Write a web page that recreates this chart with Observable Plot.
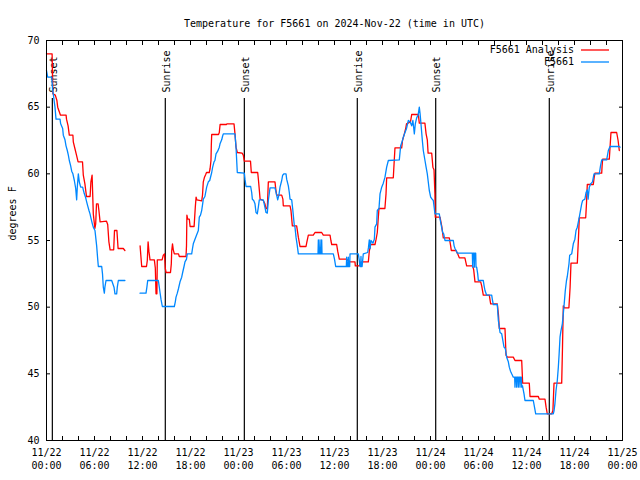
<!DOCTYPE html>
<html><head><meta charset="utf-8">
<script src="https://cdn.jsdelivr.net/npm/d3@7"></script>
<script src="https://cdn.jsdelivr.net/npm/@observablehq/plot@0.6"></script>
<style>body{margin:0;background:#fff;}</style>
</head><body><div id="chart"></div>
<script>
const title = "Temperature for F5661 on 2024-Nov-22 (time in UTC)";
const yLabel = "degrees F";
const seriesNames = ["F5661 Analysis", "F5661"];
const seriesColors = ["#ff0000", "#0088ff"];

// [hours since 2024-11-22 00:00 UTC, degrees F]
const analysis = [
[0.0,69.0],[0.7,69.0],[0.8,66.0],[1.1,65.9],[1.3,65.5],[1.4,65.0],[1.75,64.4],[2.45,64.4],[2.5,64.1],[2.7,63.6],
[2.85,62.9],[3.3,62.9],[3.35,62.4],[3.55,61.9],[3.75,61.4],[3.95,60.9],[4.5,60.9],[4.6,59.9],[4.8,59.25],[5.0,58.3],
[5.45,58.3],[5.55,59.4],[5.7,59.9],[5.85,57.0],[6.05,55.9],[6.15,56.25],[6.25,57.75],[6.45,57.75],[6.55,57.25],[6.7,56.4],
[7.5,56.45],[7.65,56.2],[7.8,54.9],[7.95,54.3],[8.4,54.3],[8.5,55.75],[8.8,55.75],[8.95,54.4],[9.6,54.4],[9.8,54.25],
[10.7,NaN],
[11.7,54.6],[11.75,54.2],[11.9,53.05],[12.5,53.05],[12.6,53.5],[12.7,54.9],[12.8,54.2],[12.94,53.55],[13.48,53.55],[13.6,52.95],
[13.69,51.0],[13.8,51.0],[13.85,53.55],[14.45,53.55],[14.6,53.9],[14.75,54.0],[14.85,52.9],[14.95,52.6],[15.5,52.6],[15.6,53.25],
[15.65,54.2],[15.75,54.75],[15.85,54.3],[15.98,54.0],[16.5,54.0],[16.6,53.8],[17.44,53.8],[17.5,54.6],[17.55,56.9],[17.65,56.6],
[17.85,56.6],[17.95,56.05],[18.45,56.05],[18.6,57.5],[18.7,58.25],[18.8,58.05],[19.4,57.97],[19.5,58.4],[19.6,59.4],[19.75,59.75],
[19.9,59.95],[20.0,60.1],[20.35,60.1],[20.45,60.4],[20.56,61.0],[20.6,62.1],[20.65,62.95],[21.5,62.95],[21.6,63.1],[21.7,63.7],
[22.5,63.7],[22.55,63.75],[23.44,63.75],[23.56,63.0],[23.69,62.0],[23.85,61.6],[24.45,61.55],[24.6,61.4],[24.73,60.95],[25.5,60.95],
[25.6,60.1],[26.4,60.1],[26.5,59.5],[26.7,58.1],[27.1,58.0],[27.3,57.75],[27.44,57.4],[27.6,57.4],[27.73,59.4],[28.56,59.4],
[28.65,58.9],[28.77,58.4],[29.4,58.4],[29.55,58.1],[29.6,57.6],[30.44,57.6],[30.56,57.25],[30.73,56.1],[31.27,56.1],[31.48,55.25],
[31.69,54.55],[32.44,54.55],[32.55,54.9],[32.73,55.4],[33.35,55.4],[33.56,55.6],[34.4,55.6],[34.6,55.4],[35.44,55.4],[35.55,55.0],
[35.65,54.7],[36.27,54.7],[36.4,54.2],[36.6,53.6],[37.52,53.6],[37.7,53.5],[37.94,53.4],[38.56,53.4],[38.6,53.1],[39.1,53.1],
[39.2,53.3],[39.4,53.4],[40.23,53.4],[40.35,54.2],[40.52,54.7],[41.06,54.7],[41.2,55.1],[41.35,55.6],[41.45,56.5],[41.56,57.4],
[42.3,57.4],[42.44,58.5],[42.52,59.7],[43.35,59.7],[43.45,60.8],[43.56,61.95],[44.4,61.95],[44.5,62.5],[44.73,63.0],[44.9,63.4],
[45.0,63.75],[45.5,63.9],[45.65,64.45],[46.48,64.45],[46.6,63.8],[47.3,63.8],[47.45,63.0],[47.6,62.55],[47.7,61.55],[48.15,61.55],
[48.3,60.5],[48.44,60.3],[48.55,58.5],[48.6,56.75],[49.19,56.75],[49.3,56.4],[49.4,56.1],[49.6,55.2],[50.35,55.2],[50.52,54.6],
[50.6,54.25],[51.19,54.25],[51.4,54.0],[51.6,53.7],[52.3,53.7],[52.52,53.1],[53.27,53.1],[53.4,52.8],[53.56,51.9],[54.27,51.9],
[54.4,51.6],[54.6,50.9],[55.35,50.9],[55.52,50.25],[56.35,50.25],[56.5,49.4],[56.6,48.4],[57.31,48.4],[57.44,46.4],[57.6,46.25],
[58.35,46.25],[58.56,46.0],[59.4,46.0],[59.52,44.3],[60.35,44.3],[60.44,43.3],[61.48,43.3],[61.6,43.1],[62.31,43.1],[62.45,42.5],
[62.6,42.0],[63.15,42.0],[63.3,42.25],[63.44,44.3],[64.4,44.3],[64.5,47.0],[64.6,50.1],[64.75,49.95],[65.3,49.95],[65.45,51.5],
[65.56,53.3],[66.35,53.3],[66.5,55.25],[66.6,56.7],[67.4,56.7],[67.5,57.8],[67.6,59.2],[68.35,59.2],[68.45,59.7],[68.56,60.05],
[69.4,60.05],[69.45,60.6],[69.52,61.1],[70.35,61.1],[70.45,62.05],[70.56,63.1],[71.27,63.1],[71.45,62.5],[71.6,61.75]
];

const station = [
[0.0,67.75],[0.15,67.25],[0.65,67.25],[0.77,66.25],[0.85,66.0],[0.95,65.5],[1.06,65.0],[1.19,64.1],[1.69,64.1],[1.77,63.75],
[2.02,63.4],[2.1,62.9],[2.31,62.55],[2.44,62.1],[2.6,61.75],[2.73,61.4],[2.85,61.0],[3.02,60.6],[3.15,60.2],[3.3,60.0],
[3.48,59.5],[3.65,58.9],[3.77,58.05],[3.85,59.0],[3.98,60.0],[4.1,59.4],[4.27,59.0],[4.52,59.0],[4.6,58.8],[4.73,58.5],
[4.9,58.2],[5.02,57.9],[5.15,57.6],[5.31,57.25],[5.44,57.0],[5.55,56.7],[5.73,56.25],[5.85,56.0],[6.06,55.75],[6.15,55.25],
[6.27,54.6],[6.4,53.6],[6.48,53.05],[6.9,53.05],[7.0,52.5],[7.1,51.5],[7.23,51.05],[7.3,51.5],[7.44,52.0],[8.15,52.0],
[8.44,51.5],[8.56,51.0],[8.77,51.0],[8.85,51.5],[8.98,52.0],[9.8,52.0],
[10.7,NaN],
[11.69,51.05],[12.44,51.05],[12.55,51.5],[12.65,52.0],[13.98,52.0],[14.1,51.5],[14.19,51.1],[14.31,50.6],[14.4,50.3],[14.48,50.05],
[15.98,50.05],[16.1,50.4],[16.19,50.75],[16.35,51.05],[16.5,51.4],[16.69,51.9],[16.9,52.25],[17.02,52.6],[17.19,53.05],[17.31,53.4],
[17.5,53.6],[17.6,54.0],[18.15,54.0],[18.25,54.4],[18.35,54.75],[18.56,55.1],[18.75,55.4],[18.98,55.75],[19.1,56.75],[19.25,56.9],
[19.4,57.25],[19.52,57.75],[19.6,58.1],[19.8,58.3],[20.02,59.0],[20.23,59.4],[20.4,59.5],[20.65,60.1],[20.77,60.5],[20.94,60.9],
[21.05,61.0],[21.19,61.5],[21.4,61.7],[21.6,62.0],[21.69,62.25],[21.9,62.55],[22.0,62.8],[22.1,63.0],[23.56,63.0],[23.69,62.0],
[23.85,60.1],[24.73,60.05],[24.81,59.6],[24.94,59.05],[25.52,59.05],[25.65,58.6],[25.73,58.1],[25.9,58.0],[26.06,57.75],[26.19,57.1],
[26.35,57.0],[26.48,57.5],[26.6,58.05],[27.1,58.05],[27.3,57.5],[27.44,57.1],[27.6,57.05],[27.73,58.0],[27.94,58.95],[28.56,58.95],
[28.77,58.4],[28.9,58.05],[29.05,58.4],[29.19,59.0],[29.4,59.5],[29.52,59.9],[29.69,60.0],[29.94,60.0],[30.02,59.6],[30.23,59.1],
[30.35,58.6],[30.44,58.1],[30.65,58.05],[30.77,57.4],[30.85,56.9],[30.98,56.1],[31.06,56.0],[31.19,55.25],[31.35,54.6],[31.48,54.0],
[33.77,54.0],[33.94,54.0],[33.98,55.05],[34.02,54.0],[34.15,54.0],[34.19,55.05],[34.23,54.0],[34.36,54.0],[34.4,55.05],[34.44,54.0],
[35.85,54.0],[36.0,53.6],[36.15,53.05],[37.48,53.05],[37.52,53.75],[37.56,53.05],[37.69,53.05],[37.73,53.75],[37.77,53.05],[37.9,53.05],
[37.94,54.0],[38.98,54.0],[39.1,53.5],[39.19,53.05],[39.27,53.05],[39.31,53.8],[39.35,53.05],[39.45,53.05],[39.6,54.0],[40.15,54.1],
[40.25,54.5],[40.35,55.05],[40.45,54.4],[40.55,55.0],[40.8,54.8],[40.98,55.1],[41.06,56.0],[41.27,56.25],[41.35,57.25],[41.56,57.4],
[41.69,58.5],[41.9,59.0],[42.1,59.3],[42.31,59.75],[42.52,60.5],[42.73,61.0],[44.1,61.05],[44.27,62.1],[44.45,62.4],[44.6,62.75],
[44.81,63.1],[45.0,63.4],[45.23,64.0],[45.45,63.9],[45.65,63.6],[45.8,64.0],[45.98,63.0],[46.1,63.75],[46.27,64.2],[46.45,64.4],
[46.6,65.0],[46.7,64.5],[46.81,63.75],[46.98,62.5],[47.1,61.75],[47.31,61.0],[47.45,60.5],[47.6,60.0],[47.7,59.5],[47.85,58.75],
[48.02,58.25],[48.2,58.1],[48.35,58.0],[48.56,57.0],[49.1,57.0],[49.2,56.6],[49.31,56.25],[49.52,55.6],[49.65,55.5],[49.81,55.0],
[50.85,55.0],[50.95,54.6],[51.06,54.4],[51.2,54.25],[51.35,54.05],[53.23,54.05],[53.27,53.0],[53.31,54.05],[53.44,54.05],[53.48,53.0],
[53.52,54.05],[53.65,54.05],[53.69,53.0],[53.77,53.0],[53.9,52.5],[53.98,52.0],[54.6,52.0],[54.7,51.6],[54.81,51.25],[54.9,51.1],
[55.02,50.9],[55.65,50.9],[55.75,50.5],[55.85,50.2],[56.35,50.2],[56.48,49.0],[56.6,48.5],[56.69,48.1],[56.9,48.0],[57.19,47.0],
[57.35,46.9],[57.52,46.25],[57.73,45.9],[57.85,45.5],[58.0,45.2],[58.15,45.0],[58.35,44.75],[58.52,44.75],[58.56,44.0],[58.6,44.75],
[58.73,44.75],[58.77,44.0],[58.81,44.75],[58.94,44.75],[58.98,44.0],[59.02,44.75],[59.15,44.75],[59.19,44.0],[59.23,44.75],[59.36,44.75],
[59.4,44.0],[59.5,44.1],[59.69,43.5],[59.81,43.0],[60.85,43.0],[61.0,42.5],[61.15,42.0],[63.35,42.0],[63.45,42.25],[63.55,42.75],
[63.69,43.75],[63.85,44.5],[63.98,45.5],[64.08,46.5],[64.19,47.75],[64.3,48.2],[64.48,48.75],[64.6,49.5],[64.72,50.3],[64.85,51.25],
[65.0,52.0],[65.1,52.3],[65.31,53.25],[65.4,53.9],[65.65,54.0],[65.85,54.75],[66.05,55.1],[66.19,55.75],[66.35,56.0],[66.6,56.75],
[66.9,57.75],[67.02,58.0],[67.3,58.1],[67.44,58.6],[67.6,58.8],[67.7,58.1],[67.85,59.0],[68.02,59.25],[68.25,59.4],[68.44,60.0],
[69.1,60.0],[69.25,60.6],[69.4,61.05],[70.02,61.05],[70.23,61.75],[70.44,62.05],[71.6,62.05],[71.7,62.0]
];

const sunHours = [0.73, 14.85, 24.73, 38.85, 48.65, 62.85];
const sunLabels = ["Sunset", "Sunrise", "Sunset", "Sunrise", "Sunset", "Sunrise"];
const xLabelHours = [0, 6, 12, 18, 24, 30, 36, 42, 48, 54, 60, 66, 72];
const xDateLabels = ["11/22","11/22","11/22","11/22","11/23","11/23","11/23","11/23","11/24","11/24","11/24","11/24","11/25"];
const xTimeLabels = ["00:00","06:00","12:00","18:00","00:00","06:00","12:00","18:00","00:00","06:00","12:00","18:00","00:00"];
const xMinorTicks = [0,2,4,6,8,10,12,14,16,18,20,22,24,26,28,30,32,34,36,38,40,42,44,46,48,50,52,54,56,58,60,62,64,66,68,70,72];
const yTicks = [40, 45, 50, 55, 60, 65, 70];

const toRows = (arr) => arr.map(([h, t]) => ({h, t}));

const legend = (index, scales, values, dims) => {
  const g = d3.create("svg:g");
  const right = dims.width - dims.marginRight;
  seriesNames.forEach((name, i) => {
    const y = dims.marginTop + 10 + 12 * i;
    g.append("text").attr("x", right - 48).attr("y", y).attr("dy", "0.32em")
      .attr("text-anchor", "end").attr("fill", "black").text(name);
    g.append("line").attr("x1", right - 41).attr("x2", right - 13).attr("y1", y).attr("y2", y)
      .attr("stroke", seriesColors[i]).attr("stroke-width", 1.3);
  });
  return g.node();
};

const chart = Plot.plot({
  width: 640,
  height: 480,
  marginLeft: 46,
  marginRight: 18,
  marginTop: 40,
  marginBottom: 40,
  style: {fontFamily: "'DejaVu Sans Mono', monospace", fontSize: "10px", background: "white", color: "black", overflow: "visible"},
  x: {domain: [0, 72], axis: null},
  y: {domain: [40, 70], axis: null},
  marks: [
    Plot.axisX(xMinorTicks, {anchor: "bottom", tickSize: -4, fill: "none", label: null}),
    Plot.axisX(xMinorTicks, {anchor: "top", tickSize: -4, fill: "none", label: null}),
    Plot.axisX(xLabelHours, {anchor: "bottom", tickSize: 0, tickPadding: 8, label: null,
      tickFormat: d => xDateLabels[xLabelHours.indexOf(d)]}),
    Plot.axisX(xLabelHours, {anchor: "bottom", tickSize: 0, tickPadding: 21, label: null,
      tickFormat: d => xTimeLabels[xLabelHours.indexOf(d)]}),
    Plot.axisY(yTicks, {anchor: "left", tickSize: -4, tickPadding: 11, label: null}),
    Plot.axisY(yTicks, {anchor: "right", tickSize: -4, fill: "none", label: null}),
    Plot.ruleX(sunHours, {x: d => d, insetTop: 58, stroke: "black", strokeWidth: 1.2}),
    Plot.text(sunHours, {x: d => d, text: (d, i) => sunLabels[i], frameAnchor: "top", dy: 52, dx: 1,
      rotate: -90, textAnchor: "start", lineAnchor: "middle", fill: "black"}),
    Plot.line(toRows(analysis), {x: "h", y: "t", stroke: seriesColors[0], strokeWidth: 1.3}),
    Plot.line(toRows(station), {x: "h", y: "t", stroke: seriesColors[1], strokeWidth: 1.3}),
    Plot.frame({stroke: "black"}),
    Plot.text([title], {frameAnchor: "top", dy: -21, fill: "black"}),
    Plot.text([yLabel], {frameAnchor: "left", dx: -34, rotate: -90, fill: "black"}),
    legend
  ]
});
document.getElementById("chart").appendChild(chart);
</script>
</body></html>
